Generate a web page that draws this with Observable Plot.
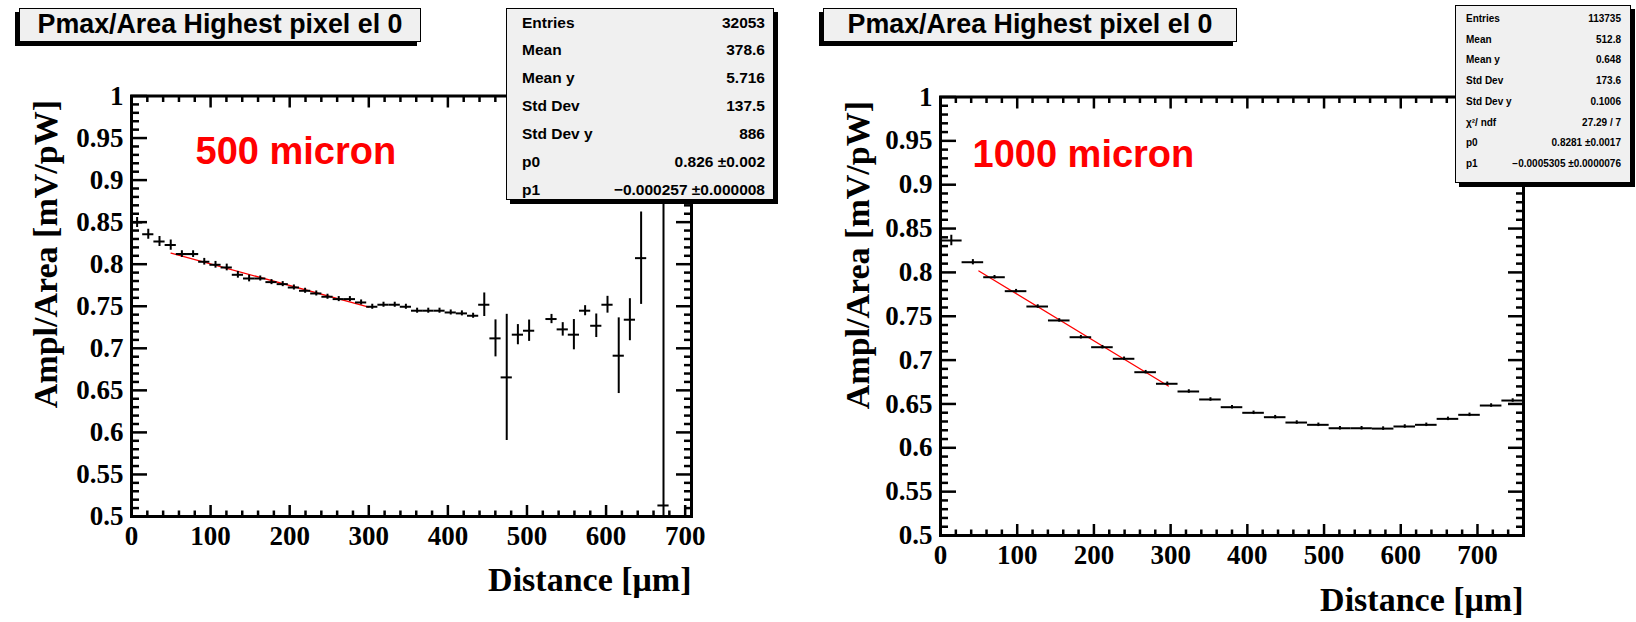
<!DOCTYPE html>
<html><head><meta charset="utf-8">
<script src="https://cdn.jsdelivr.net/npm/d3@7"></script>
<script src="https://cdn.jsdelivr.net/npm/@observablehq/plot@0.6"></script>
<style>
body{margin:0;background:#fff;}
#wrap{position:relative;width:1636px;height:622px;overflow:hidden;background:#fff;}
.svgbox{position:absolute;top:0;}
.title{position:absolute;box-sizing:border-box;background:#f0f0f0;border:1.5px solid #000;box-shadow:-4px 4px 0 #000;font:bold 26.8px 'Liberation Sans',Arial,sans-serif;text-align:center;color:#000;z-index:2;white-space:nowrap;}
.stats{position:absolute;box-sizing:border-box;background:#f0f0f0;border:1px solid #000;box-shadow:4px 4px 0 #000;font-family:'Liberation Sans',Arial,sans-serif;font-weight:bold;color:#000;z-index:2;}
.row{position:absolute;left:0;right:0;white-space:nowrap;}
.row .k{position:absolute;}
.row .v{position:absolute;}
</style></head>
<body><div id="wrap"></div>
<script>
// ---------- data ----------
const titleText = "Pmax/Area Highest pixel el 0";
const yTitle = "Ampl/Area [mV/pW]";
const xTitle = "Distance [\u03bcm]";

// 500 micron panel
const leftX = [7.1,21.2,35.4,49.6,63.7,77.9,92.0,106.2,120.4,134.5,148.7,162.8,177.0,191.2,205.3,219.5,233.6,247.8,262.0,276.1,290.3,304.4,318.6,332.8,346.9,361.1,375.2,389.4,403.6,417.7,431.9,446.0,460.2,474.4,488.5,502.7,531.0,545.2,559.3,573.5,587.6,601.8,616.0,630.1,644.3,672.6];
const leftY = [0.8495,0.8357,0.827,0.8227,0.812,0.812,0.8029,0.7993,0.7961,0.7874,0.783,0.783,0.7787,0.7763,0.7723,0.7684,0.7652,0.7613,0.7585,0.7585,0.7545,0.7494,0.7518,0.7518,0.7494,0.7447,0.7447,0.7447,0.7426,0.7415,0.7387,0.7518,0.7118,0.6654,0.7162,0.7209,0.7348,0.7225,0.7162,0.7447,0.7268,0.7518,0.6912,0.734,0.8072,0.5131];
const leftErr = [0.006,0.006,0.006,0.006,0.004,0.004,0.004,0.004,0.004,0.004,0.004,0.003,0.003,0.003,0.003,0.003,0.003,0.003,0.003,0.003,0.003,0.003,0.003,0.003,0.003,0.003,0.003,0.003,0.003,0.003,0.003,0.014,0.022,0.075,0.012,0.0127,0.0055,0.008,0.018,0.006,0.014,0.01,0.045,0.025,0.055,0.6];
const leftHalfBin = 7.08;
const leftFitX = [50, 300];
const leftFitY = [0.8132, 0.7489];
const leftLabel = "500 micron";

// 1000 micron panel
const rightX = [14.1,42.2,70.4,98.5,126.7,154.8,183.0,211.1,239.3,267.4,295.6,323.7,351.9,380.0,408.1,436.3,464.4,492.6,520.7,548.9,577.0,605.2,633.3,661.5,689.6,717.8,745.9];
const rightY = [0.8364,0.8116,0.7945,0.7786,0.7611,0.7452,0.7261,0.7147,0.7015,0.6862,0.6730,0.6642,0.6551,0.6463,0.6399,0.6349,0.6288,0.6262,0.6223,0.6223,0.6219,0.6243,0.6262,0.6330,0.6376,0.6482,0.6539];
const rightErr = [0.006,0.003,0.002,0.002,0.002,0.002,0.002,0.002,0.002,0.002,0.002,0.002,0.002,0.002,0.002,0.002,0.002,0.002,0.002,0.002,0.002,0.002,0.002,0.002,0.002,0.002,0.002];
const rightHalfBin = 14.07;
const rightFitX = [50, 297];
const rightFitY = [0.8016, 0.6705];
const rightLabel = "1000 micron";

// ticks
const xTicks = [0,100,200,300,400,500,600,700];
const yTicks = [0.5,0.55,0.6,0.65,0.7,0.75,0.8,0.85,0.9,0.95,1];

// stats boxes
const statsLeftKeys = ["Entries","Mean","Mean y","Std Dev","Std Dev y","p0","p1"];
const statsLeftVals = ["32053","378.6","5.716","137.5","886","0.826 \u00b10.002","\u22120.000257 \u00b10.000008"];
const statsRightKeys = ["Entries","Mean","Mean y","Std Dev","Std Dev y","\u03c7\u00b2/ ndf","p0","p1"];
const statsRightVals = ["113735","512.8","0.648","173.6","0.1006","27.29 / 7","0.8281 \u00b10.0017","\u22120.0005305 \u00b10.0000076"];

// ---------- drawing ----------
const wrap = document.getElementById("wrap");

function panel(o) {
  const pts = o.x.map((x, i) => ({x, y: o.y[i], e: o.err[i]}));
  const fit = o.fitX.map((x, i) => ({x, y: o.fitY[i]}));
  const xMinor = d3.range(0, o.xMax + 0.1, 20).filter(v => v % 100 !== 0);
  const yMinor = d3.range(50, 101, 1).filter(v => v % 5 !== 0).map(v => v / 100);
  const hw = o.hw;
  const blank = () => "";
  const tickW = 2.5;
  return Plot.plot({
    width: o.width, height: 622,
    marginLeft: o.ml, marginRight: o.mr, marginTop: o.mt, marginBottom: o.mb,
    x: {domain: [0, o.xMax]},
    y: {domain: [0.5, 1]},
    style: {fontFamily: "'Liberation Serif','Times New Roman',serif", fontSize: "27px", fontWeight: "bold", color: "#000", background: "transparent", overflow: "visible"},
    marks: [
      Plot.line(fit, {x: "x", y: "y", stroke: "#ff0000", strokeWidth: 1.3}),
      Plot.ruleY(pts, {y: "y", x1: d => Math.max(0, d.x - hw), x2: d => d.x + hw, stroke: "#000", strokeWidth: 2, clip: true}),
      Plot.ruleX(pts, {x: "x", y1: d => d.y - d.e, y2: d => d.y + d.e, stroke: "#000", strokeWidth: 2, clip: true}),
      Plot.axisX(xTicks, {anchor: "bottom", tickSize: -11, tickPadding: 20, strokeWidth: tickW, label: null, tickFormat: d => String(d)}),
      Plot.axisX(xMinor, {anchor: "bottom", tickSize: -5.5, strokeWidth: tickW, label: null, tickFormat: blank}),
      Plot.axisX(xTicks, {anchor: "top", tickSize: -11, strokeWidth: tickW, label: null, tickFormat: blank}),
      Plot.axisX(xMinor, {anchor: "top", tickSize: -5.5, strokeWidth: tickW, label: null, tickFormat: blank}),
      Plot.axisY(yTicks, {anchor: "left", tickSize: -16, tickPadding: 24, strokeWidth: tickW, label: null, tickFormat: d => String(+d.toFixed(2))}),
      Plot.axisY(yMinor, {anchor: "left", tickSize: -8, strokeWidth: tickW, label: null, tickFormat: blank}),
      Plot.axisY(yTicks, {anchor: "right", tickSize: -16, strokeWidth: tickW, label: null, tickFormat: blank}),
      Plot.axisY(yMinor, {anchor: "right", tickSize: -8, strokeWidth: tickW, label: null, tickFormat: blank}),
      Plot.frame({stroke: "#000", strokeWidth: 3}),
      Plot.text([yTitle], {text: d => d, frameAnchor: "top-left", rotate: -90, textAnchor: "end", lineAnchor: "middle", dx: o.yTitleDx, dy: 4, fontSize: 34, fontWeight: "bold", fontFamily: "'Liberation Serif','Times New Roman',serif", fill: "#000"}),
      Plot.text([xTitle], {text: d => d, frameAnchor: "bottom-right", textAnchor: "end", lineAnchor: "middle", dy: o.xTitleDy, fontSize: 34, fontWeight: "bold", fontFamily: "'Liberation Serif','Times New Roman',serif", fill: "#000"}),
      Plot.text([o.label], {text: d => d, frameAnchor: "top-left", textAnchor: "start", lineAnchor: "middle", dx: o.labelDx, dy: o.labelDy, fill: "#ff0000", fontSize: 38, fontWeight: "bold", fontFamily: "'Liberation Sans',Arial,sans-serif"})
    ]
  });
}

function place(node, left) {
  const d = document.createElement("div");
  d.className = "svgbox";
  d.style.left = left + "px";
  d.appendChild(node);
  wrap.appendChild(d);
}

place(panel({x: leftX, y: leftY, err: leftErr, hw: leftHalfBin, fitX: leftFitX, fitY: leftFitY, xMax: 708,
  width: 800, ml: 131, mr: 109, mt: 95.5, mb: 106, yTitleDx: -85, xTitleDy: 64, label: leftLabel, labelDx: 64, labelDy: 56}), 0);
place(panel({x: rightX, y: rightY, err: rightErr, hw: rightHalfBin, fitX: rightFitX, fitY: rightFitY, xMax: 760,
  width: 836, ml: 140, mr: 113, mt: 96.5, mb: 87, yTitleDx: -82, xTitleDy: 65, label: rightLabel, labelDx: 32, labelDy: 58}), 800);

function titleBox(left, width) {
  const d = document.createElement("div");
  d.className = "title";
  Object.assign(d.style, {left: left + "px", top: "8px", width: width + "px", height: "34px", lineHeight: "31px"});
  d.textContent = titleText;
  wrap.appendChild(d);
}
titleBox(19, 402);
titleBox(823, 414);

function statsBox(o) {
  const d = document.createElement("div");
  d.className = "stats";
  Object.assign(d.style, {left: o.left + "px", top: o.top + "px", width: o.width + "px", height: o.height + "px", fontSize: o.fs + "px"});
  o.keys.forEach((k, i) => {
    const r = document.createElement("div");
    r.className = "row";
    const c = o.first + o.step * i;
    Object.assign(r.style, {top: (c - 10) + "px", height: "20px", lineHeight: "20px"});
    const a = document.createElement("span"); a.className = "k"; a.textContent = k; a.style.left = o.padL + "px";
    const b = document.createElement("span"); b.className = "v"; b.textContent = o.vals[i]; b.style.right = o.padR + "px";
    r.appendChild(a); r.appendChild(b);
    d.appendChild(r);
  });
  wrap.appendChild(d);
}
statsBox({keys: statsLeftKeys, vals: statsLeftVals, left: 506, top: 8, width: 268, height: 192, fs: 15.5, first: 13.5, step: 27.9, padL: 15, padR: 8});
statsBox({keys: statsRightKeys, vals: statsRightVals, left: 1455, top: 5, width: 176, height: 178, fs: 10, first: 13, step: 20.7, padL: 10, padR: 9});
</script>
</body></html>
